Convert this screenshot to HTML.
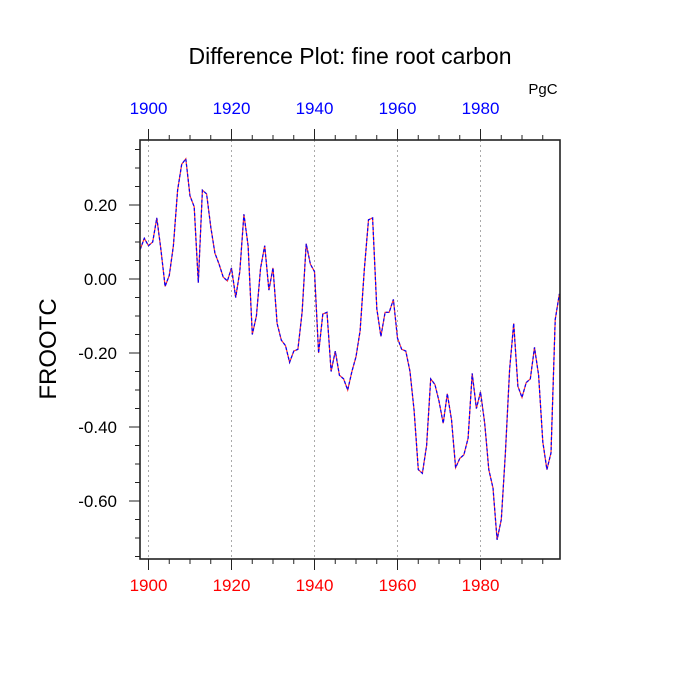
<!DOCTYPE html>
<html><head><meta charset="utf-8"><style>
body{margin:0;background:#fff;}
svg{display:block;font-family:"Liberation Sans",sans-serif;}
</style></head><body>
<svg id="chart" width="700" height="700">
<text x="350" y="64" font-size="23" text-anchor="middle">Difference Plot: fine root carbon</text>
<text x="543" y="94" font-size="15" text-anchor="middle">PgC</text>
<text transform="translate(56,349) rotate(-90)" font-size="24" text-anchor="middle">FROOTC</text>
<g id="grid"></g>
<g id="series"></g>
<g id="axes"></g>
</svg>
<script>
const years = [];
for (let y = 1898; y <= 1999; y++) years.push(y);
const values = [0.08,0.11,0.09,0.10,0.165,0.08,-0.02,0.01,0.09,0.24,0.31,0.325,0.225,0.195,-0.01,0.24,0.23,0.14,0.07,0.04,0.005,-0.005,0.03,-0.05,0.02,0.175,0.09,-0.15,-0.10,0.03,0.09,-0.03,0.03,-0.12,-0.165,-0.18,-0.225,-0.195,-0.19,-0.09,0.095,0.04,0.02,-0.20,-0.095,-0.09,-0.25,-0.195,-0.26,-0.27,-0.30,-0.25,-0.21,-0.14,0.025,0.16,0.165,-0.08,-0.155,-0.09,-0.09,-0.055,-0.16,-0.19,-0.195,-0.25,-0.355,-0.515,-0.525,-0.45,-0.27,-0.285,-0.33,-0.39,-0.31,-0.38,-0.51,-0.485,-0.475,-0.43,-0.255,-0.35,-0.305,-0.39,-0.515,-0.565,-0.705,-0.65,-0.47,-0.245,-0.12,-0.29,-0.32,-0.28,-0.27,-0.185,-0.26,-0.44,-0.515,-0.47,-0.11,-0.04];
const xTicks = [1900,1920,1940,1960,1980];
const yTicks = [0.2,0.0,-0.2,-0.4,-0.6];
const yTickLabels = ["0.20","0.00","-0.20","-0.40","-0.60"];

const L=140,R=560,T=140,B=559;
const X = yr => 148.5 + (yr-1900)*4.15;
const Y = v => 279 - v*370;
const NS="http://www.w3.org/2000/svg";
function mk(tag, attrs, parent){const e=document.createElementNS(NS,tag);for(const k in attrs)e.setAttribute(k,attrs[k]);parent.appendChild(e);return e;}
const grid=document.getElementById('grid'), series=document.getElementById('series'), axes=document.getElementById('axes');

xTicks.forEach(t=>{
  const g=mk('line',{x1:X(t),x2:X(t),y1:T,y2:B,stroke:'#aaa','stroke-width':1,'stroke-dasharray':'2,3'},grid);
  
  
});

const pts = years.map((yr,i)=>X(yr).toFixed(1)+','+Y(values[i]).toFixed(1)).join(' ');
const red=mk('polyline',{points:pts,fill:'none',stroke:'#ff3030','stroke-width':1.2},series);


const blue=mk('polyline',{points:pts,fill:'none',stroke:'#0000ff','stroke-width':1.2,'stroke-dasharray':'3,2'},series);



const frame=mk('rect',{x:L,y:T,width:R-L,height:B-T,fill:'none',stroke:'#222','stroke-width':1.6},axes);



for(let yr=1900; yr<=1995; yr+=5){
  const major = xTicks.includes(yr);
  const len = major?11:5;
  const b=mk('line',{x1:X(yr),x2:X(yr),y1:B,y2:B+len,stroke:'#222','stroke-width':1},axes);
  
  
  const t=mk('line',{x1:X(yr),x2:X(yr),y1:T,y2:T-len,stroke:'#222','stroke-width':1},axes);
  
  
}
xTicks.forEach(yr=>{
  const b=mk('text',{x:X(yr),y:591,'font-size':17,'text-anchor':'middle',fill:'#ff0000'},axes);
  b.textContent=yr;
  
  
  const t=mk('text',{x:X(yr),y:114,'font-size':17,'text-anchor':'middle',fill:'#0000ff'},axes);
  t.textContent=yr;
  
  
});
for(let k=-15;k<=7;k++){
  const v=k*0.05;
  if(Y(v)<T||Y(v)>B) continue;
  const major = (k%4===0);
  const tk=mk('line',{x1:L,x2:L-(major?11:5),y1:Y(v),y2:Y(v),stroke:'#222','stroke-width':1},axes);
  
  
}
yTicks.forEach((v,i)=>{
  const t=mk('text',{x:117,y:Y(v)+6,'font-size':17,'text-anchor':'end'},axes);
  t.textContent=yTickLabels[i];
  
  
});
</script>
</body></html>
